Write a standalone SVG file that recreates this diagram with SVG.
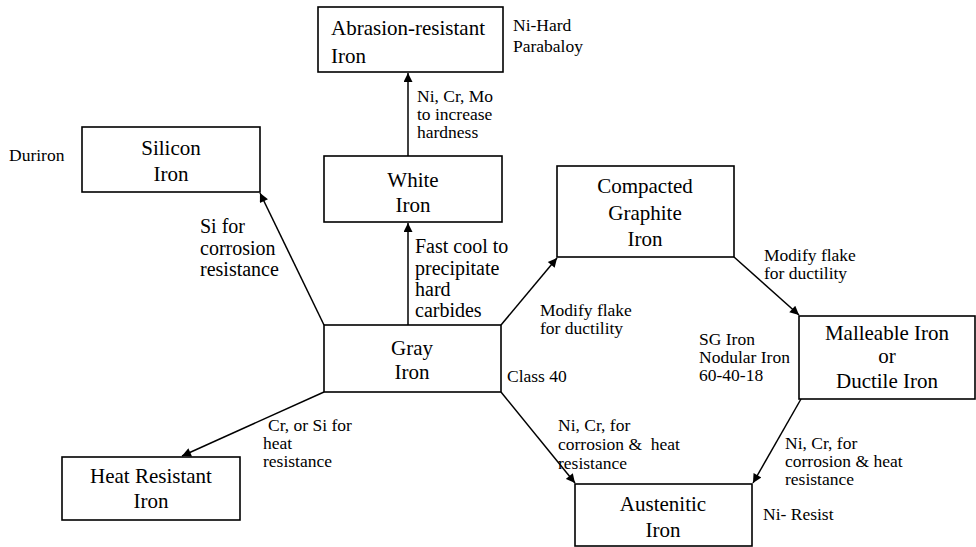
<svg xmlns="http://www.w3.org/2000/svg" width="976" height="547" viewBox="0 0 976 547" font-family="'Liberation Serif', 'Times New Roman', serif">
<style>
rect.box{fill:#fff;stroke:#000;stroke-width:1.6}
text{fill:#000}
.bt{font-size:21px;text-anchor:middle}
.bl{font-size:21px}
.lb{font-size:17.5px}
.lg{font-size:20px}
.conn line{stroke:#000;stroke-width:1.5;fill:none}
</style>
<defs>
<marker id="ah" viewBox="0 0 10 10" refX="10" refY="5" markerWidth="11" markerHeight="9" markerUnits="userSpaceOnUse" orient="auto">
<path d="M0,0 L10,5 L0,10 Z" fill="#000"/>
</marker>
</defs>
<rect width="976" height="547" fill="#fff"/>
<g class="conn">
<line x1="408" y1="156" x2="408" y2="73" marker-end="url(#ah)"/>
<line x1="408" y1="325" x2="408" y2="223" marker-end="url(#ah)"/>
<line x1="324" y1="325" x2="260" y2="193" marker-end="url(#ah)"/>
<line x1="501" y1="325" x2="557" y2="258" marker-end="url(#ah)"/>
<line x1="734" y1="257" x2="799" y2="315" marker-end="url(#ah)"/>
<line x1="324" y1="392" x2="182" y2="456" marker-end="url(#ah)"/>
<line x1="501" y1="392" x2="575" y2="483" marker-end="url(#ah)"/>
<line x1="801" y1="399" x2="753" y2="483" marker-end="url(#ah)"/>
</g>
<g id="abrasion">
<rect class="box" x="318" y="7" width="185" height="65"/>
<text class="bl" x="331" y="35">Abrasion-resistant</text>
<text class="bl" x="331" y="63">Iron</text>
</g>
<g id="white">
<rect class="box" x="324" y="156" width="178" height="66"/>
<text class="bt" x="413" y="187">White</text>
<text class="bt" x="413" y="212">Iron</text>
</g>
<g id="silicon">
<rect class="box" x="82" y="127" width="178" height="65"/>
<text class="bt" x="171" y="155">Silicon</text>
<text class="bt" x="171" y="181">Iron</text>
</g>
<g id="gray">
<rect class="box" x="324" y="325" width="177" height="67"/>
<text class="bt" x="412" y="355">Gray</text>
<text class="bt" x="412" y="379">Iron</text>
</g>
<g id="compacted">
<rect class="box" x="557" y="166" width="177" height="91"/>
<text class="bt" x="645" y="193">Compacted</text>
<text class="bt" x="645" y="220">Graphite</text>
<text class="bt" x="645" y="246">Iron</text>
</g>
<g id="malleable">
<rect class="box" x="799" y="316" width="176" height="83"/>
<text class="bt" x="887" y="340">Malleable Iron</text>
<text class="bt" x="887" y="363">or</text>
<text class="bt" x="887" y="388">Ductile Iron</text>
</g>
<g id="heat">
<rect class="box" x="62" y="457" width="178" height="63"/>
<text class="bt" x="151" y="483">Heat Resistant</text>
<text class="bt" x="151" y="508">Iron</text>
</g>
<g id="austenitic">
<rect class="box" x="575" y="484" width="177" height="62"/>
<text class="bt" x="663" y="511">Austenitic</text>
<text class="bt" x="663" y="537">Iron</text>
</g>
<g id="labels">
<text class="lb" x="513" y="31">Ni-Hard</text>
<text class="lb" x="513" y="52">Parabaloy</text>
<text class="lb" x="417" y="102">Ni, Cr, Mo</text>
<text class="lb" x="417" y="120">to increase</text>
<text class="lb" x="417" y="138">hardness</text>
<text class="lb" x="9" y="161">Duriron</text>
<text class="lg" x="200" y="233">Si for</text>
<text class="lg" x="200" y="255">corrosion</text>
<text class="lg" x="200" y="276">resistance</text>
<text class="lg" x="415" y="253">Fast cool to</text>
<text class="lg" x="415" y="275">precipitate</text>
<text class="lg" x="415" y="296">hard</text>
<text class="lg" x="415" y="317">carbides</text>
<text class="lb" x="540" y="316">Modify flake</text>
<text class="lb" x="540" y="334">for ductility</text>
<text class="lb" x="507" y="382">Class 40</text>
<text class="lb" x="764" y="261">Modify flake</text>
<text class="lb" x="764" y="279">for ductility</text>
<text class="lb" x="699" y="345">SG Iron</text>
<text class="lb" x="699" y="363">Nodular Iron</text>
<text class="lb" x="699" y="381">60-40-18</text>
<text class="lb" x="268" y="431">Cr, or Si for</text>
<text class="lb" x="263" y="449">heat</text>
<text class="lb" x="263" y="467">resistance</text>
<text class="lb" x="558" y="431">Ni, Cr, for</text>
<text class="lb" x="558" y="450" xml:space="preserve">corrosion &amp;  heat</text>
<text class="lb" x="558" y="469">resistance</text>
<text class="lb" x="785" y="449">Ni, Cr, for</text>
<text class="lb" x="785" y="467">corrosion &amp; heat</text>
<text class="lb" x="785" y="485">resistance</text>
<text class="lb" x="763" y="520">Ni- Resist</text>
</g>
</svg>
